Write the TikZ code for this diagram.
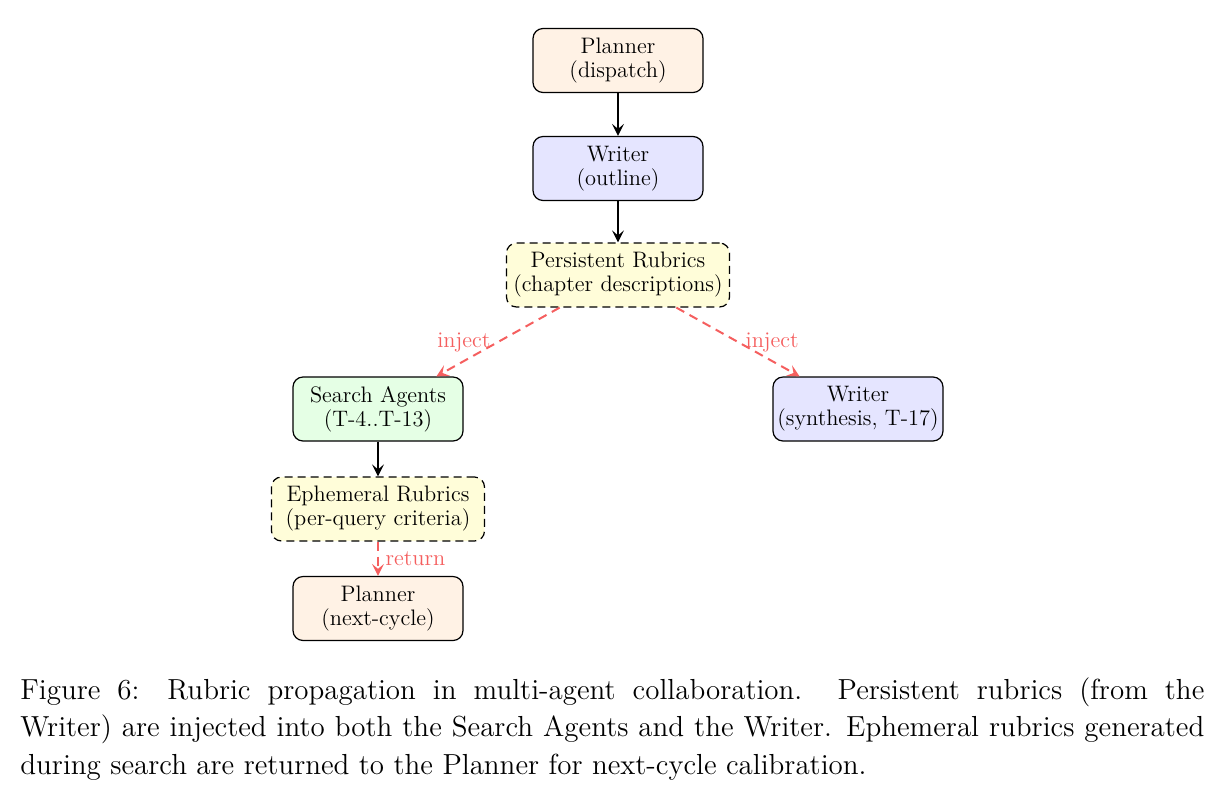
\documentclass[tikz,border=0pt]{standalone}
\usetikzlibrary{arrows.meta}
\definecolor{injred}{RGB}{245,95,95}
\begin{document}
\begin{tikzpicture}[x=0.5pt,y=-0.5pt,
  box/.style={draw=black, line width=0.6pt, rounded corners=5pt, minimum width=85pt, minimum height=32pt, align=center, inner xsep=2pt, inner ysep=4pt, font=\fontsize{11.2}{12}\selectfont},
  planner/.style={box, fill=orange!10},
  writer/.style={box, fill=blue!10},
  search/.style={box, fill=green!10},
  rubric/.style={box, dash pattern=on 4pt off 2.5pt, fill=yellow!15},
  tip/.style={-{Stealth[length=6pt,width=6pt,inset=2.5pt]}},
  flow/.style={tip, line width=1pt, black},
  inj/.style={tip, line width=1pt, dash pattern=on 4.5pt off 3pt, injred},
  lbl/.style={text=injred, font=\fontsize{11.2}{12}\selectfont}
]
\useasboundingbox (0,0) rectangle (1221,794);
\node[planner] (p1) at (618,60.5) {Planner\\(dispatch)};
\node[writer] (w1) at (618,168.5) {Writer\\(outline)};
\node[rubric, minimum width=111.5pt] (pr) at (618,275) {Persistent Rubrics\\(chapter descriptions)};
\node[search] (sa) at (378,409) {Search Agents\\(T-4..T-13)};
\node[writer] (w2) at (858,409) {Writer\\(synthesis, T-17)};
\node[rubric, minimum width=106.5pt] (er) at (378,509) {Ephemeral Rubrics\\(per-query criteria)};
\node[planner] (p2) at (378,608.5) {Planner\\(next-cycle)};
\draw[flow] (p1) -- (w1);
\draw[flow] (w1) -- (pr);
\draw[inj] (pr) -- node[lbl, midway, left] {inject} (sa);
\draw[inj] (pr) -- node[lbl, midway, right] {inject} (w2);
\draw[flow] (sa) -- (er);
\draw[inj] (er) -- node[lbl, midway, right] {return} (p2);
\node[anchor=north west, inner sep=0pt, text width=592pt, align=justify, font=\fontsize{14.5}{18.75}\selectfont] (cap) at (20,677)
 {Figure 6: Rubric propagation in multi-agent collaboration. Persistent rubrics (from the\linebreak Writer) are injected into both the Search Agents and the Writer. Ephemeral rubrics generated\linebreak during search are returned to the Planner for next-cycle calibration.};
\end{tikzpicture}
\end{document}
